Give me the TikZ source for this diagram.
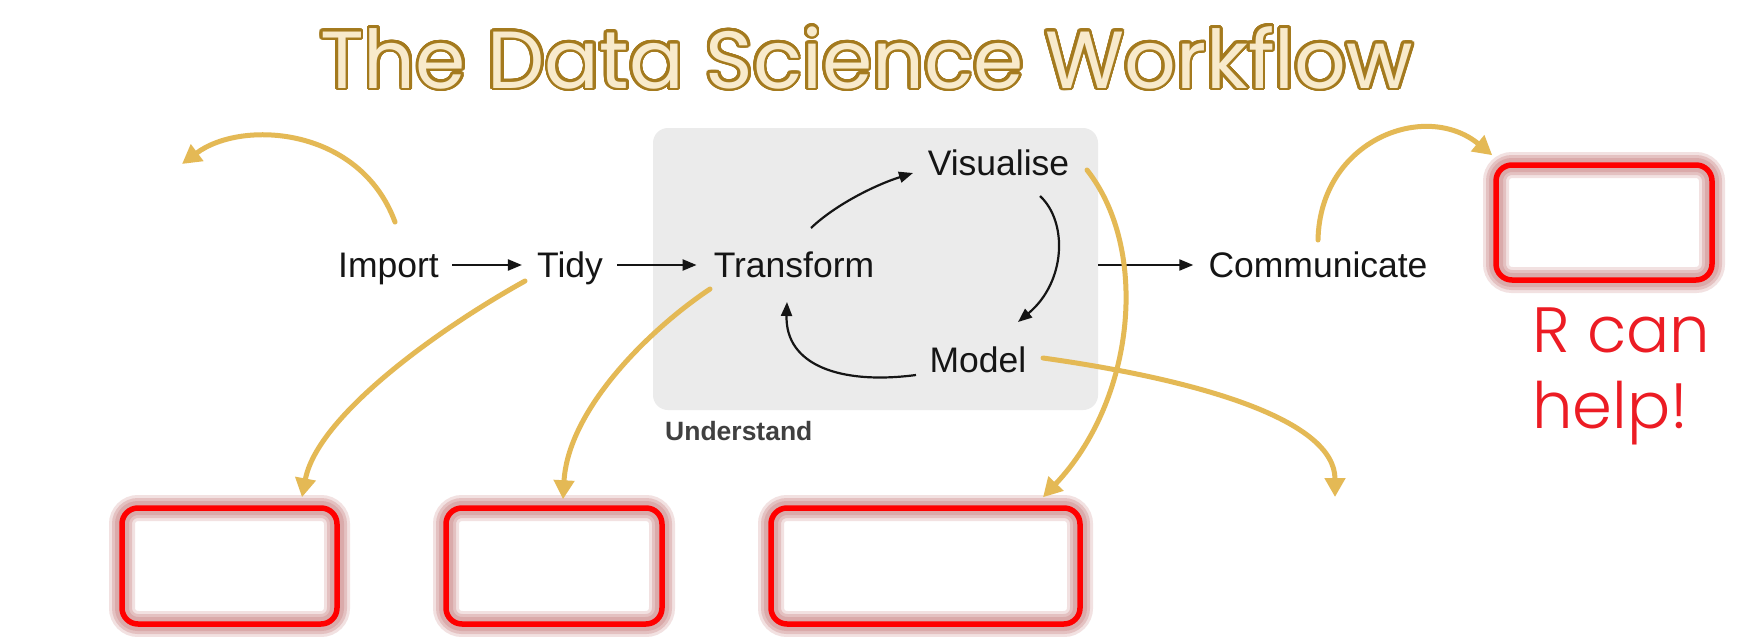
\documentclass[tikz,border=0pt]{standalone}
\usepackage{fontspec}
\setmainfont{Liberation Sans}
\newfontfamily\geofont{Poppins}
\newfontfamily\geolight{Poppins}[UprightFont=* Light]
\usepackage{contour}
\contourlength{2.8pt}
\contournumber{32}
\usetikzlibrary{arrows.meta}

\definecolor{gold}{HTML}{E4B955}
\definecolor{titlefill}{HTML}{F8EACB}
\definecolor{titleline}{HTML}{A47A1E}
\definecolor{panel}{HTML}{EBEBEB}
\definecolor{ink}{HTML}{151515}
\definecolor{labelgrey}{HTML}{404040}
\definecolor{halo}{HTML}{D49C9C}
\definecolor{alert}{HTML}{FF0000}
\definecolor{helpred}{HTML}{EC1C24}

\begin{document}
\begin{tikzpicture}[x=1pt,y=-1pt,
  stage/.style={inner sep=0pt, text height=25pt, text depth=0pt,
    font=\fontsize{35.5}{40}\selectfont, text=ink},
  flow/.style={draw=ink, line width=2.2pt, -{Triangle[length=14pt,width=11pt]}},
  tool/.style={draw=gold, line width=5pt, line cap=round,
    -{Triangle[length=19pt,width=20pt]}},
  rbox/.style={draw=alert, line width=5.5pt, rounded corners=16pt, inner sep=0pt,
    preaction={draw=halo, line width=26pt, draw opacity=0.3},
    preaction={draw=halo, line width=20pt, draw opacity=0.45},
    preaction={draw=halo, line width=14pt, draw opacity=0.6}},
]
% canvas
\fill[white] (0,0) rectangle (1751,637);
\useasboundingbox (0,0) rectangle (1751,637);

% title
\node[anchor=base, inner sep=0pt, font=\geofont\fontsize{81}{90}\selectfont,
  text=titlefill] (title) at (866.5,88) {\contour{titleline}{The Data Science Workflow}};

% the "Understand" panel
\node[fill=panel, rounded corners=15pt, minimum width=445pt, minimum height=282pt,
  inner sep=0pt] (und) at (875.5,269) {};
\node[anchor=base west, inner sep=0pt, font=\bfseries\fontsize{26.5}{30}\selectfont,
  text=labelgrey] (undlabel) at (665,440) {Understand};

% workflow stages
\node[stage] (imp)   at (388.5,265) {Import};
\node[stage] (tidy)  at (570,265)   {Tidy};
\node[stage] (trans) at (794,265)   {Transform};
\node[stage] (vis)   at (998.5,162.5) {Visualise};
\node[stage] (mod)   at (978,359.5) {Model};
\node[stage] (comm)  at (1318,265)  {Communicate};

% empty red boxes
\node[rbox, minimum width=215pt, minimum height=116pt] (boxA) at (229.5,566) {};
\node[rbox, minimum width=216pt, minimum height=116pt] (boxB) at (554,566) {};
\node[rbox, minimum width=309pt, minimum height=116pt] (boxC) at (925.5,566) {};
\node[rbox, minimum width=216pt, minimum height=115pt] (boxD) at (1604,222.5) {};

% two-line note; its base anchor sits on the last line
\node[anchor=base west, align=left, inner sep=0pt,
  font=\geolight\fontsize{64}{76}\selectfont, text=helpred] (help) at (1532,428) {R can\\help!};

% black workflow arrows
\draw[flow] ([xshift=13pt]imp.east) -- ([xshift=-15pt]tidy.west);
\draw[flow] ([xshift=14pt]tidy.east) -- ([xshift=-17pt]trans.west);
\draw[flow] (und.east |- comm.west) -- ([xshift=-15pt]comm.west);
\draw[flow] ([shift={(17,-37)}]trans.center) .. controls +(24,-23) and +(-38,12) .. ([shift={(-85.5,10.5)}]vis.center);
\draw[flow] ([shift={(41.5,33.5)}]vis.center) .. controls +(28,26) and +(48,-40) .. ([shift={(40,-37.5)}]mod.center);
\draw[flow] ([shift={(-62,15.5)}]mod.center) .. controls +(-76,10) and +(-2,63) .. ([shift={(-7,37)}]trans.center);

% gold arrows
\coordinate (importend) at (182,164);
\coordinate (modelend) at (1335,497);
\draw[tool] ([shift={(6.5,-43)}]imp.center) .. controls +(-35,-95) and +(60,-45) .. (importend);
\draw[tool] ([shift={(-45,16)}]tidy.center) .. controls +(-90,50) and +(15,-80) .. ([shift={(72.5,-8)}]boxA.north);
\draw[tool] ([shift={(-84,24)}]trans.center) .. controls +(-60,40) and +(5,-90) .. ([shift={(9,-6)}]boxB.north);
\draw[tool] ([shift={(65,-1.5)}]mod.center) .. controls +(157,22) and +(0,-77) .. (modelend);
\draw[tool] ([shift={(88.5,7.5)}]vis.center) .. controls +(63,80) and +(92,-97) .. ([shift={(117.5,-8)}]boxC.north);
\draw[tool] ([shift={(0,-25)}]comm.center) .. controls +(2,-100) and +(-67,-55) .. ([shift={(-1,-7)}]boxD.north west);
\end{tikzpicture}
\end{document}
